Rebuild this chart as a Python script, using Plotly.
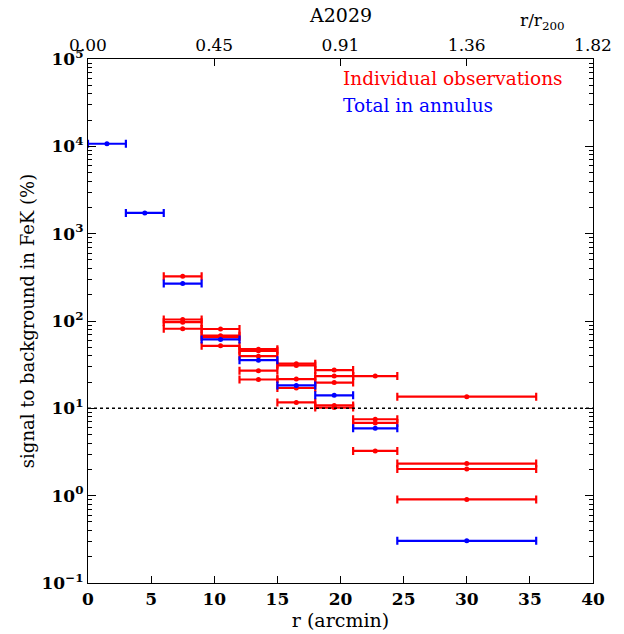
import plotly.graph_objects as go

# ---- data ----
blue_lo = [0, 3, 6, 9, 12, 15, 18, 21, 24.5]
blue_hi = [3, 6, 9, 12, 15, 18, 21, 24.5, 35.5]
blue_val = [10700, 1730, 268, 61.5, 35.6, 18.3, 14.1, 5.9, 0.304]

red_lo = [6, 6, 6, 6,
          9, 9, 9, 9,
          12, 12, 12, 12, 12,
          15, 15, 15, 15, 15,
          18, 18, 18, 18, 18,
          21, 21, 21, 21,
          24.5, 24.5, 24.5, 24.5]
red_hi = [9, 9, 9, 9,
          12, 12, 12, 12,
          15, 15, 15, 15, 15,
          18, 18, 18, 18, 18,
          21, 21, 21, 21, 21,
          24.5, 24.5, 24.5, 24.5,
          35.5, 35.5, 35.5, 35.5]
red_val = [325, 104, 97, 81.5,
           81, 68, 65.5, 52,
           47.6, 45.5, 39.6, 27, 21.4,
           32.5, 31, 21.6, 17.1, 11.7,
           27.4, 23.4, 19.7, 10.8, 10.2,
           23.4, 7.5, 6.8, 3.25,
           13.6, 2.33, 2.02, 0.906]

x_ticks = [0, 5, 10, 15, 20, 25, 30, 35, 40]
top_tickvals = [0, 10, 20, 30, 40]
top_ticktext = ["0.00", "0.45", "0.91", "1.36", "1.82"]
y_exps = [-1, 0, 1, 2, 3, 4, 5]
threshold = 10

FONT = "DejaVu Serif"

def centers(lo, hi):
    return [(a + b) / 2 for a, b in zip(lo, hi)]

def halfw(lo, hi):
    return [(b - a) / 2 for a, b in zip(lo, hi)]

fig = go.Figure()

fig.add_trace(go.Scatter(
    x=centers(red_lo, red_hi), y=red_val, mode="markers",
    marker=dict(color="#ff0000", size=5),
    error_x=dict(type="data", array=halfw(red_lo, red_hi), symmetric=True,
                 color="#ff0000", thickness=2.2, width=4),
    showlegend=False, hoverinfo="skip"))

fig.add_trace(go.Scatter(
    x=centers(blue_lo, blue_hi), y=blue_val, mode="markers",
    marker=dict(color="#0000ff", size=5),
    error_x=dict(type="data", array=halfw(blue_lo, blue_hi), symmetric=True,
                 color="#0000ff", thickness=2.2, width=4),
    showlegend=False, hoverinfo="skip"))

# empty traces so the secondary axes exist
fig.add_trace(go.Scatter(x=[None], y=[None], xaxis="x2", yaxis="y", showlegend=False, hoverinfo="skip"))
fig.add_trace(go.Scatter(x=[None], y=[None], xaxis="x", yaxis="y2", showlegend=False, hoverinfo="skip"))

# reference line
fig.add_shape(type="line", xref="x", yref="y", x0=0, x1=40, y0=threshold, y1=threshold,
              line=dict(color="black", width=1.5, dash="dot"))

minor_vals = [m * 10 ** e for e in y_exps[:-1] for m in range(2, 10)]
y_tickvals = [10 ** e for e in y_exps]
y_ticktext = ["<b>10<sup>%s</sup></b>" % (str(e).replace("-", "−")) for e in y_exps]

axis_common = dict(showgrid=False, zeroline=False, showline=True, linecolor="black",
                   linewidth=1.3, ticks="inside", tickcolor="black")

fig.update_layout(
    width=624, height=634,
    margin=dict(l=88, r=29, t=59, b=51),
    paper_bgcolor="white", plot_bgcolor="white",
    font=dict(family=FONT, size=16, color="black"),
    xaxis=dict(range=[0, 40], tickvals=x_ticks, ticktext=["<b>%d</b>" % v for v in x_ticks],
               ticklen=7, tickwidth=1, tickfont=dict(size=17),
               title=dict(text="r (arcmin)", font=dict(size=19), standoff=0),
               **axis_common),
    xaxis2=dict(range=[0, 40], overlaying="x", side="top", anchor="y",
                tickvals=top_tickvals, ticktext=top_ticktext, ticklen=7,
                tickfont=dict(size=17), **axis_common),
    yaxis=dict(type="log", range=[-1, 5], tickvals=y_tickvals, ticktext=y_ticktext,
               ticklen=8, tickfont=dict(size=17),
               minor=dict(ticks="inside", ticklen=4, tickcolor="black", tickmode="array",
                          tickvals=minor_vals, showgrid=False),
               title=dict(text="signal to background in FeK (%)", font=dict(size=18), standoff=2),
               **axis_common),
    yaxis2=dict(type="log", range=[-1, 5], overlaying="y", side="right", anchor="x",
                tickvals=y_tickvals, showticklabels=False, ticklen=8,
                minor=dict(ticks="inside", ticklen=4, tickcolor="black", tickmode="array",
                           tickvals=minor_vals, showgrid=False),
                **axis_common),
    annotations=[
        dict(text="A2029", xref="paper", yref="paper", x=0.5, y=1.0, yshift=44,
             showarrow=False, font=dict(size=19), xanchor="center", yanchor="middle"),
        dict(text="r/r<sub>200</sub>", xref="paper", yref="paper", x=0.9, y=1.0, yshift=38,
             showarrow=False, font=dict(size=17), xanchor="center", yanchor="middle"),
        dict(text="Individual observations", xref="paper", yref="paper", x=0.5, y=1.0,
             xshift=0, yshift=-19, showarrow=False,
             font=dict(size=18.5, color="#ff0000"), xanchor="left", yanchor="middle"),
        dict(text="Total in annulus", xref="paper", yref="paper", x=0.5, y=1.0,
             xshift=0, yshift=-46, showarrow=False,
             font=dict(size=18.5, color="#0000ff"), xanchor="left", yanchor="middle"),
    ],
)

fig.write_html("out.html")
